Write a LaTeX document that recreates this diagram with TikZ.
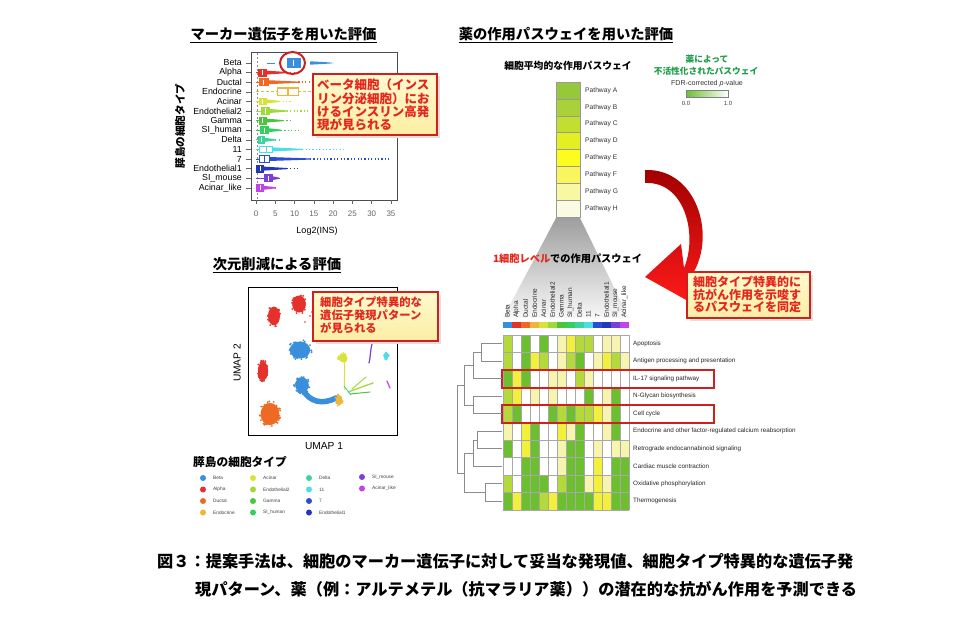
\documentclass[tikz,border=0pt]{standalone}
\usepackage{fontspec}
\setmainfont{Liberation Sans}
\newfontfamily\jp{Noto Sans CJK JP}
\usetikzlibrary{calc}
\definecolor{calred}{HTML}{D0201E}
\definecolor{calltext}{HTML}{E4261C}
\definecolor{callfillA}{HTML}{FFF9CF}
\definecolor{callfillB}{HTML}{FBEEA4}
\definecolor{hmgrid}{HTML}{A8A8A8}
\definecolor{hmG}{HTML}{6CBF2E}
\definecolor{hmL}{HTML}{B3D93A}
\definecolor{hmY}{HTML}{F3F03C}
\definecolor{hmP}{HTML}{F7F4B0}
\definecolor{hmW}{HTML}{FFFFFF}
\definecolor{pwA}{HTML}{96C83C}
\definecolor{pwB}{HTML}{A8D238}
\definecolor{pwC}{HTML}{C2DF30}
\definecolor{pwD}{HTML}{E4EF22}
\definecolor{pwE}{HTML}{FCFC1E}
\definecolor{pwF}{HTML}{F8F65C}
\definecolor{pwG}{HTML}{F9F8A2}
\definecolor{pwH}{HTML}{FBFBE2}
\definecolor{grntxt}{HTML}{1E9E4A}
\definecolor{arrDark}{HTML}{A00000}
\definecolor{arrLight}{HTML}{FF1A1A}
\definecolor{cBeta}{HTML}{3A8FDC}
\definecolor{cAlpha}{HTML}{E4312B}
\definecolor{cDuctal}{HTML}{EE6A24}
\definecolor{cEndocrine}{HTML}{EDB53A}
\definecolor{cAcinar}{HTML}{D8E33A}
\definecolor{cEndoTwo}{HTML}{A2D93A}
\definecolor{cGamma}{HTML}{4CC53A}
\definecolor{cSIhuman}{HTML}{36CF5E}
\definecolor{cDelta}{HTML}{3DD3A0}
\definecolor{cEleven}{HTML}{4BDDEB}
\definecolor{cSeven}{HTML}{2A4DD8}
\definecolor{cEndoOne}{HTML}{2437B8}
\definecolor{cSImouse}{HTML}{7B3FD9}
\definecolor{cAcinarLike}{HTML}{C343E6}
\tikzset{
 ttl/.style={font=\jp\bfseries\fontsize{14.3}{16}\selectfont, inner sep=0pt},
 calltxt/.style={text=calltext, inner sep=0pt, anchor=west},
 dendro/.style={draw=black!45, line width=0.6pt},
 rowlab/.style={font=\fontsize{6.3}{7}\selectfont, anchor=west, inner sep=0pt, text=black!85},
 collab/.style={font=\fontsize{6.5}{7}\selectfont, rotate=90, anchor=west, inner sep=0pt, text=black!85},
 pwlab/.style={font=\fontsize{6.7}{7}\selectfont, anchor=west, inner sep=0pt, text=black!80},
 bplab/.style={font=\fontsize{8.8}{9}\selectfont, anchor=east, inner sep=0pt},
 ticklab/.style={font=\fontsize{8}{9}\selectfont, text=black!60, inner sep=0pt},
 leglab/.style={font=\fontsize{4.8}{5}\selectfont, anchor=west, inner sep=0pt, text=black!75},
}
% y, colour, q1, q3, box fill, taper end, dot end, median colour
\newcommand\bprow[8]{%
 \draw[#2, line width=0.8pt] (0,#1) -- (#3,#1);
 \draw[#2, line width=1.4pt, dash pattern=on 1.2pt off 2.2pt] (#6,#1) -- (#7,#1);
 \fill[#2] (#4,{#1-2}) -- (#6,{#1-0.6}) -- (#6,{#1+0.6}) -- (#4,{#1+2}) -- cycle;
 \filldraw[fill=#5, draw=#2, line width=0.9pt] (#3,{#1-3.4}) rectangle (#4,{#1+3.4});
 \draw[#8, line width=0.9pt] ({(#3+#4)/2},{#1-2.6}) -- ({(#3+#4)/2},{#1+2.6});
}
% x, y, rx, ry, colour, n
\newcommand\umapblob[6]{%
 \fill[#5] (#1,#2) ellipse [x radius={0.85*#3*1pt}, y radius={0.85*#4*1pt}];
 \foreach \ui in {1,...,#6}{%
  \pgfmathsetmacro\ua{360*rnd}%
  \pgfmathsetmacro\ur{sqrt(rnd)}%
  \fill[#5] ({#1+#3*\ur*cos(\ua)},{#2+#4*\ur*sin(\ua)}) circle (1pt);
 }%
}
\begin{document}
\begin{tikzpicture}[x=1pt,y=-1pt]
\useasboundingbox[fill=white] (0,0) rectangle (980,618);
\pgfmathsetseed{12345}

%================ marker gene boxplot =================
\node[ttl] (t1) at (283.5,34) {マーカー遺伝子を用いた評価};
\draw[line width=1.1pt] ([yshift=-1.5pt]t1.south west) -- ([yshift=-1.5pt]t1.south east);

\draw[black!70, line width=0.6pt] (251,52) rectangle (397,200);
\foreach \lab [count=\i from 0] in {Beta,Alpha,Ductal,Endocrine,Acinar,Endothelial2,Gamma,SI\_human,Delta,11,7,Endothelial1,SI\_mouse,Acinar\_like}{
  \node[bplab] (bl\i) at (242,{63+9.6*\i}) {\lab};
  \draw[black!60, line width=0.5pt] (246,{63+9.6*\i}) -- (251,{63+9.6*\i});
}
\foreach \v in {0,5,...,35}{
  \draw[black!60, line width=0.5pt] ({256+3.857*\v},200) -- ({256+3.857*\v},204);
  \node[ticklab] (tk\v) at ({256+3.857*\v},214) {\v};
}
\node[font=\fontsize{9}{10}\selectfont, inner sep=0pt] (xl1) at (317,231) {Log2(INS)};
\node[font=\jp\bfseries\fontsize{10.6}{11}\selectfont, rotate=90, inner sep=0pt] (yl1) at (180,126) {膵島の細胞タイプ};

\begin{scope}[shift={(256,0)}, x=3.857pt]
\draw[black!45, line width=0.5pt, dash pattern=on 2pt off 2pt] (0.2,53) -- (0.2,199);
% Beta
\draw[cBeta, line width=0.9pt] (2.8,63) -- (4.8,63);
\filldraw[fill=cBeta, draw=cBeta, line width=0.9pt] (8.2,58.4) rectangle (11.4,67.6);
\draw[white, line width=1pt] (9.8,59.8) -- (9.8,66.2);
\fill[cBeta] (14,61.3) -- (19,62.4) -- (20.2,63) -- (19,63.6) -- (14,64.7) -- cycle;
% others
\bprow{72.6}{cAlpha}{0.6}{2.6}{cAlpha}{8}{10}{white}
\bprow{82.2}{cDuctal}{0.8}{3.2}{cDuctal}{11}{18}{white}
% Endocrine
\draw[cEndocrine, dash pattern=on 3pt off 2pt, line width=0.9pt] (0,91.8) -- (5.5,91.8);
\filldraw[fill=white, draw=cEndocrine, line width=1.1pt] (5.5,88) rectangle (11,95.6);
\draw[cEndocrine, line width=1.1pt] (8.3,88) -- (8.3,95.6);
\draw[cEndocrine, dash pattern=on 3pt off 2pt, line width=0.9pt] (11,91.8) -- (15,91.8);
\bprow{101.4}{cAcinar}{0.8}{2.8}{cAcinar}{6}{9}{white}
\bprow{111.0}{cEndoTwo}{1.4}{3.5}{cEndoTwo}{8}{14}{white}
\bprow{120.6}{cGamma}{0.8}{2.6}{cGamma}{7}{9.5}{white}
\bprow{130.2}{cSIhuman}{1.2}{3.2}{cSIhuman}{6.5}{11}{white}
\bprow{139.8}{cDelta}{0.6}{2.3}{cDelta}{5}{6.5}{white}
\bprow{149.4}{cEleven}{1.0}{4.3}{white}{12}{23}{cEleven}
\bprow{159.0}{cSeven}{1.0}{3.4}{white}{14}{35}{cSeven}
\bprow{168.6}{cEndoOne}{0.2}{2.0}{cEndoOne}{8}{11}{white}
\bprow{178.2}{cSImouse}{2.3}{4.2}{cSImouse}{6}{6.5}{white}
\bprow{187.8}{cAcinarLike}{0.1}{2.0}{cAcinarLike}{5}{5.5}{white}
\end{scope}
\draw[calred, line width=2pt] (292.5,63) ellipse [x radius=12.5pt, y radius=11pt];

% callout 1
\fill[black!12] (315.5,76.5) rectangle (439.5,137.5);
\shade[top color=callfillA, bottom color=callfillB] (313,74) rectangle (437,135);
\draw[calred, line width=2.2pt] (313,74) rectangle (437,135);
\begin{scope}[every node/.style={calltxt, font=\jp\bfseries\fontsize{12.5}{13}\selectfont}]
\node (c1a) at (317,85) {ベータ細胞（インス};
\node (c1b) at (317,98.5) {リン分泌細胞）にお};
\node (c1c) at (317,111.5) {けるインスリン高発};
\node (c1d) at (317,124.5) {現が見られる};
\end{scope}

%================ UMAP =================
\node[ttl] (t3) at (277,264) {次元削減による評価};
\draw[line width=1.1pt] ([yshift=-1.5pt]t3.south west) -- ([yshift=-1.5pt]t3.south east);
\draw[black, line width=0.7pt] (248,287) rectangle (397,435);
\node[font=\fontsize{10.2}{11}\selectfont, rotate=90, inner sep=0pt] (u2) at (237,363) {UMAP 2};
\node[font=\fontsize{10.2}{11}\selectfont, inner sep=0pt] (u1) at (324,446) {UMAP 1};

\umapblob{299}{304}{8}{10}{cAlpha}{60}
\umapblob{274}{316}{7}{11}{cAlpha}{50}
\umapblob{300}{350}{12}{10}{cBeta}{80}
\umapblob{263}{371}{6}{11}{cAlpha}{40}
\umapblob{302}{385}{8}{9}{cBeta}{60}
\draw[cBeta, line width=5.5pt, line cap=round] (303,390) .. controls (310,402) and (322,405) .. (336,398);
\umapblob{270}{414}{11}{13}{cDuctal}{90}
\umapblob{343}{358}{5}{5}{cAcinar}{25}
\draw[cAcinar, line width=1pt] (344,362) .. controls (346,372) and (343,380) .. (345,390);
\umapblob{339}{400}{4}{6}{cEndocrine}{20}
\draw[cEndoTwo, line width=1.3pt, line cap=round] (348,392) -- (373,383);
\draw[cEndoTwo, line width=1pt, line cap=round] (352,389) -- (366,377);
\draw[cGamma, line width=1pt, line cap=round] (350,394) -- (370,392);
\draw[cDelta, line width=0.8pt] (344,386) -- (351,395);
\draw[cSImouse, line width=1.2pt, line cap=round] (369,363) .. controls (371,355) and (370,348) .. (373,341);
\umapblob{386}{356}{3}{4}{cEleven}{12}
\draw[cAcinarLike, line width=1.2pt, line cap=round] (387,381) -- (390,388);
\foreach \sx/\sy in {310/316,314/320,312/312,305/322}{\fill[cAlpha] (\sx,\sy) circle (0.8pt);}

% callout 3
\fill[black!12] (315.5,294.5) rectangle (440.5,343.5);
\shade[top color=callfillA, bottom color=callfillB] (313,292) rectangle (438,341);
\draw[calred, line width=2.2pt] (313,292) rectangle (438,341);
\begin{scope}[every node/.style={calltxt, font=\jp\bfseries\fontsize{11.3}{12}\selectfont}]
\node (c3a) at (320,302) {細胞タイプ特異的な};
\node (c3b) at (320,315) {遺伝子発現パターン};
\node (c3c) at (320,328) {が見られる};
\end{scope}

% legend
\node[font=\jp\bfseries\fontsize{11.7}{12}\selectfont, anchor=west, inner sep=0pt] (lgt) at (193,462) {膵島の細胞タイプ};
\foreach \lx/\ly/\lc/\lt [count=\li] in {203/478/cBeta/Beta,203/489.5/cAlpha/Alpha,203/501/cDuctal/Ductal,203/512.5/cEndocrine/Endocrine,
 253/478/cAcinar/Acinar,253/489.5/cEndoTwo/Endothelial2,253/501/cGamma/Gamma,253/512.5/cSIhuman/SI\_human,
 309/478/cDelta/Delta,309/489.5/cEleven/11,309/501/cSeven/7,309/512.5/cEndoOne/Endothelial1,
 362/477/cSImouse/SI\_mouse,362/488.5/cAcinarLike/Acinar\_like}{
  \fill[\lc] (\lx,\ly) circle (3pt);
  \node[leglab] (lg\li) at (\lx+10,\ly) {\lt};
}

%================ drug pathway =================
\node[ttl] (t2) at (566,34) {薬の作用パスウェイを用いた評価};
\draw[line width=1.1pt] ([yshift=-1.5pt]t2.south west) -- ([yshift=-1.5pt]t2.south east);
\node[font=\jp\bfseries\fontsize{9.8}{10}\selectfont, inner sep=0pt] (avg) at (568,66) {細胞平均的な作用パスウェイ};

\foreach \pc/\pl [count=\i from 0] in {pwA/A,pwB/B,pwC/C,pwD/D,pwE/E,pwF/F,pwG/G,pwH/H}{
  \fill[\pc] (556,{82+16.875*\i}) rectangle (580,{82+16.875*(\i+1)});
  \draw[black!40, line width=0.5pt] (556,{82+16.875*\i}) rectangle (580,{82+16.875*(\i+1)});
  \node[pwlab] (pw\i) at (585,{82+16.875*(\i+0.5)}) {Pathway \pl};
}

\node[font=\jp\bfseries\fontsize{8.7}{9}\selectfont, text=grntxt, inner sep=0pt] (g1) at (707,59) {薬によって};
\node[font=\jp\bfseries\fontsize{8.7}{9}\selectfont, text=grntxt, inner sep=0pt] (g2) at (706,71) {不活性化されたパスウェイ};
\node[font=\fontsize{7.1}{8}\selectfont, inner sep=0pt, text=black!80] (fdr) at (707,84) {FDR-corrected \textit{p}-value};
\shade[left color=hmG, middle color=yellow, right color=white] (686,90) rectangle (728,97);
\draw[black!50, line width=0.5pt] (686,90) rectangle (728,97);
\node[font=\fontsize{6}{7}\selectfont, inner sep=0pt, text=black!75] (z0) at (686,103) {0.0};
\node[font=\fontsize{6}{7}\selectfont, inner sep=0pt, text=black!75] (z1) at (728,103) {1.0};

% funnel
\shade[top color=black!38, bottom color=black!3] (556,218) -- (580,218) -- (629,318) -- (503,318) -- cycle;

% red curved arrow
\shade[top color=arrDark, bottom color=arrLight] (645,170) .. controls (700,168) and (720,245) .. (686,283) -- (688,301) -- (645,277) -- (681,244) -- (684,268) .. controls (698,235) and (685,181) .. (645,183) -- cycle;

\node[font=\jp\bfseries\fontsize{10.2}{11}\selectfont, inner sep=0pt] (sct) at (567.5,259) {{\color{calltext}1細胞レベル}での作用パスウェイ};

% callout 2
\fill[black!12] (689.5,274.5) rectangle (812.5,320.5);
\shade[top color=callfillA, bottom color=callfillB] (687,272) rectangle (810,318);
\draw[calred, line width=2.2pt] (687,272) rectangle (810,318);
\begin{scope}[every node/.style={calltxt, font=\jp\bfseries\fontsize{12}{12.5}\selectfont}]
\node (c2a) at (693,282) {細胞タイプ特異的に};
\node (c2b) at (693,294.5) {抗がん作用を示唆す};
\node (c2c) at (693,307) {るパスウェイを同定};
\end{scope}

% heatmap column labels and strip
\foreach \cl/\cn [count=\i from 0] in {cBeta/Beta,cAlpha/Alpha,cDuctal/Ductal,cEndocrine/Endocrine,cAcinar/Acinar,cEndoTwo/Endothelial2,cGamma/Gamma,cSIhuman/SI\_human,cDelta/Delta,cEleven/11,cSeven/7,cEndoOne/Endothelial1,cSImouse/SI\_mouse,cAcinarLike/Acinar\_like}{
  \node[collab] (cl\i) at ({507.5+9*\i},318) {\cn};
  \fill[\cl] ({503+9*\i},322) rectangle ({512+9*\i},327.5);
}

% heatmap cells
\foreach \hrow [count=\hr from 0] in {
 {L,W,G,W,G,W,P,Y,L,L,W,P,P,W},
 {L,W,G,Y,L,W,P,L,G,W,P,Y,L,P},
 {G,Y,G,W,W,P,P,W,L,P,W,W,W,W},
 {L,Y,W,P,W,P,W,W,W,G,W,P,G,W},
 {L,G,W,W,W,G,L,G,L,L,Y,P,G,W},
 {P,W,Y,G,W,W,Y,P,G,W,W,P,G,W},
 {G,W,Y,G,W,W,P,G,G,W,P,W,P,P},
 {W,W,G,G,W,W,P,G,G,W,Y,W,G,G},
 {L,W,G,G,G,W,L,G,G,P,Y,P,G,G},
 {G,Y,G,G,L,Y,G,G,G,G,Y,Y,G,G}}{
  \foreach \hc [count=\hk from 0] in \hrow {
    \fill[hm\hc] ({503+9*\hk},{335+17.5*\hr}) rectangle ({512+9*\hk},{352.5+17.5*\hr});
  }
}
\foreach \hk in {0,...,14}{\draw[hmgrid, line width=0.5pt] ({503+9*\hk},335) -- ({503+9*\hk},510);}
\foreach \hr in {0,...,10}{\draw[hmgrid, line width=0.5pt] (503,{335+17.5*\hr}) -- (629,{335+17.5*\hr});}

\foreach \rn [count=\i from 0] in {Apoptosis,Antigen processing and presentation,IL-17 signaling pathway,N-Glycan biosynthesis,Cell cycle,Endocrine and other factor-regulated calcium reabsorption,Retrograde endocannabinoid signaling,Cardiac muscle contraction,Oxidative phosphorylation,Thermogenesis}{
  \node[rowlab] (rl\i) at (633,{343.75+17.5*\i}) {\rn};
}
\draw[calred, line width=2.2pt] (502,370) rectangle (714,388);
\draw[calred, line width=2.2pt] (502,405) rectangle (714,423);

% dendrogram
\draw[dendro] (502,343.75) -| (481,361.25) -- (502,361.25);
\draw[dendro] (481,352.5) -| (473,378.75) -- (502,378.75);
\draw[dendro] (502,396.25) -| (473,413.75) -- (502,413.75);
\draw[dendro] (473,365.6) -| (464,405) -- (473,405);
\draw[dendro] (502,431.25) -| (477,448.75) -- (502,448.75);
\draw[dendro] (477,440) -| (473,466.25) -- (502,466.25);
\draw[dendro] (502,483.75) -| (485,501.25) -- (502,501.25);
\draw[dendro] (473,453.1) -| (464,492.5) -- (485,492.5);
\draw[dendro] (464,385.3) -| (457,472.8) -- (464,472.8);

%================ caption =================
\node[font=\jp\bfseries\fontsize{16.2}{18}\selectfont, anchor=west, inner sep=0pt] (cap1) at (157,561) {図３：提案手法は、細胞のマーカー遺伝子に対して妥当な発現値、細胞タイプ特異的な遺伝子発};
\node[font=\jp\bfseries\fontsize{16.2}{18}\selectfont, anchor=west, inner sep=0pt] (cap2) at (195,589) {現パターン、薬（例：アルテメテル（抗マラリア薬））の潜在的な抗がん作用を予測できる};
\end{tikzpicture}
\end{document}
